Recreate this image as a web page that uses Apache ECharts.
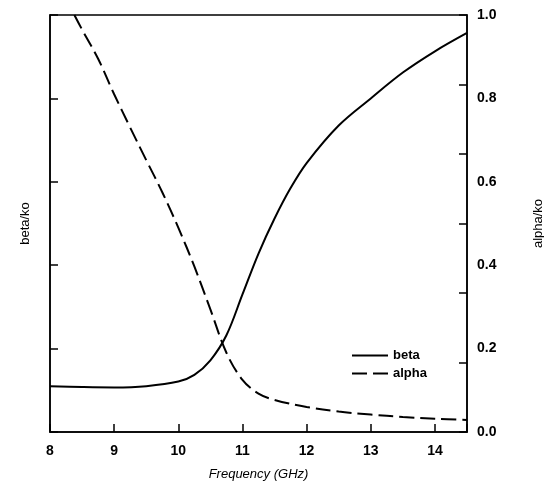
<!DOCTYPE html>
<html>
<head>
<meta charset="utf-8">
<script src="https://cdn.jsdelivr.net/npm/echarts@6/dist/echarts.min.js"></script>
<style>html,body{margin:0;padding:0;background:#fff;}#c{width:544px;height:491px;}</style>
</head>
<body>
<div id="c"></div>
<script>
// Frequency (GHz) vs beta/ko
const betaFreq = [8, 8.5, 9, 9.5, 10, 10.25, 10.5, 10.75, 11, 11.25, 11.5, 11.75, 12, 12.5, 13, 13.5, 14, 14.5];
const betaVals = [0.110, 0.108, 0.107, 0.110, 0.121, 0.137, 0.172, 0.232, 0.330, 0.428, 0.512, 0.585, 0.645, 0.735, 0.800, 0.862, 0.913, 0.957];
// Frequency (GHz) vs alpha/ko
const alphaFreq = [8.38, 8.5, 8.75, 9, 9.25, 9.5, 9.75, 10, 10.25, 10.5, 10.75, 11, 11.25, 11.5, 12, 12.5, 13, 13.5, 14, 14.5];
const alphaVals = [1.0, 0.965, 0.895, 0.81, 0.73, 0.652, 0.575, 0.49, 0.397, 0.294, 0.19, 0.125, 0.092, 0.077, 0.060, 0.049, 0.042, 0.036, 0.032, 0.029];
const xTicks = [8, 9, 10, 11, 12, 13, 14];
const rightLabels = [0.0, 0.2, 0.4, 0.6, 0.8, 1.0];

const font = '"Liberation Sans", Arial, sans-serif';
const chart = echarts.init(document.getElementById('c'), null, {renderer: 'canvas'});
chart.setOption({
  backgroundColor: '#fff',
  animation: false,
  grid: {left: 50, top: 15, right: 77, bottom: 59, outerBoundsMode: 'none', containLabel: false,
    show: true, borderColor: '#000', borderWidth: 1.5, backgroundColor: 'transparent'},
  legend: {
    orient: 'vertical', left: 346, top: 344, itemWidth: 36, itemHeight: 14, itemGap: 5,
    itemStyle: {opacity: 0},
    lineStyle: {width: 2},
    textStyle: {fontFamily: font, fontSize: 13, fontWeight: 'bold', color: '#000'},
    data: ['beta', 'alpha']
  },
  xAxis: {
    type: 'value', min: 8, max: 14.5, interval: 1,
    name: 'Frequency (GHz)', nameLocation: 'middle', nameGap: 36,
    nameTextStyle: {fontFamily: font, fontSize: 13, fontStyle: 'italic', color: '#000'},
    axisLine: {lineStyle: {color: '#000', width: 1.5}},
    axisTick: {inside: true, length: 8, lineStyle: {color: '#000', width: 1.5}},
    axisLabel: {margin: 12, fontFamily: font, fontSize: 14, fontWeight: 'bold', color: '#000',
      formatter: v => xTicks.includes(v) ? String(v) : ''},
    splitLine: {show: false}
  },
  yAxis: [
    {
      type: 'value', position: 'left', min: 0, max: 1, interval: 0.2,
      name: 'beta/ko', nameLocation: 'middle', nameRotate: 90, nameGap: 18,
      nameTextStyle: {fontFamily: font, fontSize: 13, color: '#000'},
      axisLine: {show: true, lineStyle: {color: '#000', width: 1.5}},
      axisTick: {inside: true, length: 8, lineStyle: {color: '#000', width: 1.5}},
      axisLabel: {show: false},
      splitLine: {show: false}
    },
    {
      type: 'value', position: 'right', min: 0, max: 1, interval: 0.2,
      name: 'alpha/ko', nameLocation: 'middle', nameRotate: 90, nameGap: 65,
      nameTextStyle: {fontFamily: font, fontSize: 13, color: '#000'},
      axisLine: {show: true, lineStyle: {color: '#000', width: 1.5}},
      axisTick: {show: false},
      axisLabel: {margin: 10, fontFamily: font, fontSize: 14, fontWeight: 'bold', color: '#000',
        formatter: v => rightLabels.some(r => Math.abs(r - v) < 1e-9) ? v.toFixed(1) : ''},
      splitLine: {show: false}
    },
    {
      type: 'value', position: 'right', min: 0, max: 6, interval: 1,
      axisLine: {show: false},
      axisTick: {inside: true, length: 8, lineStyle: {color: '#000', width: 1.5}},
      axisLabel: {show: false},
      splitLine: {show: false}
    }
  ],
  series: [
    {
      name: 'beta', type: 'line', yAxisIndex: 0, smooth: 0.35, symbol: 'none',
      lineStyle: {color: '#000', width: 2},
      itemStyle: {color: '#000'},
      data: betaFreq.map((f, i) => [f, betaVals[i]])
    },
    {
      name: 'alpha', type: 'line', yAxisIndex: 1, smooth: 0.35, symbol: 'none',
      lineStyle: {color: '#000', width: 2, type: [15, 6]},
      itemStyle: {color: '#000'},
      data: alphaFreq.map((f, i) => [f, alphaVals[i]])
    }
  ]
});
</script>
</body>
</html>
